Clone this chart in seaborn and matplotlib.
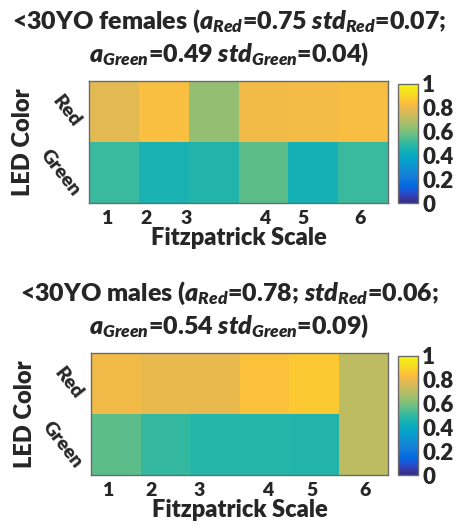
import numpy as np
import pandas as pd
import matplotlib
matplotlib.use("Agg")
import matplotlib.pyplot as plt
from matplotlib.colors import LinearSegmentedColormap
import seaborn as sns

# ---------------- data ----------------
led_colors = ["Red", "Green"]
fitz_labels = ["1", "2", "3", "4", "5", "6"]

females_red = [0.78, 0.835, 0.64, 0.81, 0.82, 0.83]
females_green = [0.51, 0.45, 0.47, 0.56, 0.44, 0.51]
males_red = [0.81, 0.79, 0.79, 0.845, 0.87, 0.71]
males_green = [0.56, 0.50, 0.48, 0.48, 0.47, 0.71]

# where the Fitzpatrick numbers were written under each panel (in cell units)
females_label_pos = [0.35, 1.15, 1.94, 3.52, 4.30, 5.43]
males_label_pos = [0.34, 1.22, 2.18, 3.57, 4.46, 5.53]

females_title = ("<30YO females ($a_{Red}$=0.75 $std_{Red}$=0.07;\n"
                 "$a_{Green}$=0.49 $std_{Green}$=0.04)")
males_title = ("<30YO males ($a_{Red}$=0.78; $std_{Red}$=0.06;\n"
               "$a_{Green}$=0.54 $std_{Green}$=0.09)")

cbar_ticks = [0, 0.2, 0.4, 0.6, 0.8, 1]
cbar_ticklabels = ["0", "0.2", "0.4", "0.6", "0.8", "1"]

# ---------------- style ----------------
sns.set_style("white")
FONT = "Lato"
WEIGHT = "heavy"
plt.rcParams["font.family"] = [FONT, "DejaVu Sans"]
plt.rcParams["font.weight"] = WEIGHT
plt.rcParams["mathtext.fontset"] = "custom"
plt.rcParams["mathtext.rm"] = f"{FONT}:{WEIGHT}"
plt.rcParams["mathtext.it"] = f"{FONT}:italic:{WEIGHT}"
plt.rcParams["mathtext.bf"] = f"{FONT}:{WEIGHT}"

# MATLAB parula (sampled)
_parula = [
    (0.2081, 0.1663, 0.5292), (0.2081, 0.2386, 0.6771),
    (0.1253, 0.3242, 0.8303), (0.0060, 0.4086, 0.8828),
    (0.0498, 0.4586, 0.8641), (0.0779, 0.5040, 0.8384),
    (0.0641, 0.5570, 0.8240), (0.0265, 0.6137, 0.8135),
    (0.0228, 0.6535, 0.7768), (0.0590, 0.6838, 0.7254),
    (0.1453, 0.7098, 0.6646), (0.2586, 0.7317, 0.5954),
    (0.3953, 0.7459, 0.5244), (0.5300, 0.7491, 0.4661),
    (0.6473, 0.7456, 0.4188), (0.7525, 0.7384, 0.3768),
    (0.8507, 0.7299, 0.3360), (0.9450, 0.7261, 0.2886),
    (0.9990, 0.7653, 0.2164), (0.9697, 0.8481, 0.1475),
    (0.9598, 0.9218, 0.0948), (0.9763, 0.9831, 0.0538)]
_pos = [0, 3, 6, 9, 12, 15, 18, 21, 24, 27, 30, 33, 36, 39, 42, 45, 48,
        51, 54, 57, 61, 63]
parula = LinearSegmentedColormap.from_list(
    "parula", [(p / 63, c) for p, c in zip(_pos, _parula)])

W, H = 459, 529
fig = plt.figure(figsize=(W / 100, H / 100), dpi=100)


def px_rect(x0, y0, x1, y1):
    return [x0 / W, 1 - y1 / H, (x1 - x0) / W, (y1 - y0) / H]


panels = [
    dict(red=females_red, green=females_green, lpos=females_label_pos,
         title=females_title, ax=px_rect(89, 81, 388, 203),
         cax=px_rect(398, 84, 418, 203), ty=38),
    dict(red=males_red, green=males_green, lpos=males_label_pos,
         title=males_title, ax=px_rect(91, 353, 388, 475),
         cax=px_rect(398, 356, 418, 475), ty=310),
]

spine_col = "#6b6b6b"
for p in panels:
    df = pd.DataFrame([p["red"], p["green"]], index=led_colors,
                      columns=fitz_labels)
    ax = fig.add_axes(p["ax"])
    cax = fig.add_axes(p["cax"])
    sns.heatmap(df, ax=ax, cbar_ax=cax, cmap=parula, vmin=0, vmax=1,
                linewidths=0)
    for s in ax.spines.values():
        s.set_visible(True)
        s.set_color(spine_col)
        s.set_linewidth(1.0)
    ax.set_xticks(np.arange(len(fitz_labels)) + 0.5)
    ax.set_xticklabels([])
    ax.tick_params(axis="x", which="major", direction="in", length=3,
                   top=True, bottom=True, color=spine_col, width=0.8)
    ax.set_xticks(p["lpos"], minor=True)
    ax.set_xticklabels(fitz_labels, minor=True, fontsize=14,
                       fontweight=WEIGHT)
    ax.tick_params(axis="x", which="minor", length=0, pad=5)
    ax.set_yticks(np.arange(len(led_colors)) + 0.5)
    ax.set_yticklabels(led_colors, rotation=-52, fontsize=14,
                       fontweight=WEIGHT, va="center")
    ax.tick_params(axis="y", direction="in", length=3, left=True,
                   right=True, color=spine_col, width=0.8, pad=4)
    ax.set_xlabel("Fitzpatrick Scale", fontsize=17, fontweight=WEIGHT,
                  labelpad=0)
    ax.set_ylabel("LED Color", fontsize=17, fontweight=WEIGHT, labelpad=2)

    cb = ax.collections[0].colorbar
    cb.set_ticks(cbar_ticks)
    cb.set_ticklabels(cbar_ticklabels)
    cb.outline.set_edgecolor(spine_col)
    cb.outline.set_linewidth(1.0)
    cax.tick_params(labelsize=16, length=3, direction="in",
                    color=spine_col, pad=3)
    for t in cax.get_yticklabels():
        t.set_fontweight(WEIGHT)

    fig.text(0.5, 1 - p["ty"] / H, p["title"], ha="center", va="center",
             fontsize=18, fontweight=WEIGHT, linespacing=1.25)

fig.savefig("out.png", dpi=100)
